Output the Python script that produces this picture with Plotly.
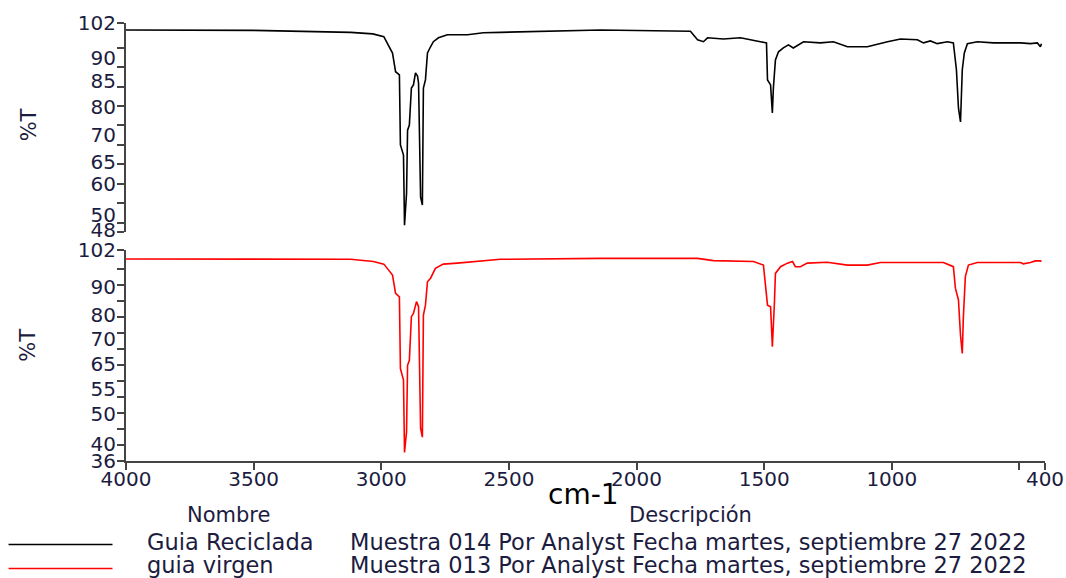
import plotly.graph_objects as go

# ---------------- data ----------------
wn_reciclada = [4000, 3500, 3120, 3033, 2990, 2976, 2956, 2944, 2929, 2925, 2913, 2909,
                2901, 2897, 2890, 2882, 2874, 2866, 2858, 2854, 2846, 2839, 2835, 2827,
                2819, 2807, 2796, 2776, 2741, 2662, 2600, 2533, 2337, 2141, 1789, 1761,
                1738, 1722, 1660, 1593, 1515, 1491, 1487, 1475, 1468, 1464, 1456, 1444,
                1425, 1405, 1386, 1346, 1280, 1229, 1174, 1096, 1017, 966, 900, 876, 849,
                822, 782, 759, 747, 739, 731, 724, 716, 704, 665, 602, 496, 457, 430, 418, 414]
t_reciclada = [99.5, 99.4, 98.9, 98.5, 97.8, 96.2, 93.6, 88.8, 88.0, 70.0, 67.4, 49.4,
               57.6, 73.8, 75.1, 84.6, 85.4, 88.5, 87.7, 85.9, 56.6, 54.6, 84.6, 86.7,
               93.6, 95.2, 96.5, 97.5, 98.3, 98.3, 98.8, 98.9, 99.2, 99.5, 99.2, 97.0,
               96.5, 97.5, 97.2, 97.5, 96.5, 96.2, 86.7, 85.4, 78.2, 84.6, 91.8, 93.9,
               94.9, 95.7, 94.9, 96.5, 96.2, 96.5, 95.2, 95.2, 96.5, 97.2, 97.0, 96.2, 96.7,
               96.0, 96.5, 96.2, 89.3, 79.5, 75.9, 89.3, 93.6, 96.0, 96.5, 96.2, 96.2, 96.0, 96.2, 95.2, 96.0]

wn_virgen = [4000, 3120, 3031, 2990, 2972, 2956, 2944, 2929, 2925, 2913, 2909, 2901,
             2897, 2890, 2882, 2874, 2862, 2854, 2846, 2839, 2835, 2827, 2819, 2807,
             2788, 2757, 2702, 2600, 2533, 2141, 1761, 1699, 1542, 1503, 1487, 1475,
             1468, 1460, 1456, 1436, 1409, 1389, 1378, 1358, 1331, 1253, 1174, 1096,
             1045, 798, 759, 751, 739, 731, 724, 720, 712, 700, 665, 496, 485, 457,
             438, 418, 414]
t_virgen = [98.2, 98.1, 97.4, 96.6, 94.8, 93.2, 87.5, 86.4, 64.0, 60.4, 37.8, 44.2,
            65.0, 66.6, 80.2, 81.2, 84.9, 83.3, 45.3, 42.6, 80.7, 83.8, 91.1, 92.2,
            95.3, 96.6, 96.9, 97.6, 98.1, 98.4, 98.4, 97.7, 97.4, 96.3, 83.8, 83.3,
            70.8, 84.4, 93.7, 95.8, 96.9, 97.4, 95.8, 95.8, 96.9, 97.2, 96.3, 96.3,
            97.1, 97.1, 95.8, 89.1, 85.4, 74.4, 68.7, 79.7, 92.7, 96.3, 97.1, 97.1, 96.7, 97.1,
            97.6, 97.6, 97.4]

x_tick_vals = [4000, 3500, 3000, 2500, 2000, 1500, 1000, 500, 400]
x_tick_text = ["4000", "3500", "3000", "2500", "2000", "1500", "1000", "", "400"]

top_label_vals = [101.3, 92.3, 86.3, 79.8, 72.6, 65.7, 60.0, 52.0, 48.1]
top_label_text = ["102", "90", "85", "80", "70", "65", "60", "50", "48"]
top_minor_vals = [101.3, 95, 90, 85, 80, 75, 70, 65, 60, 55, 50, 47.6]

bot_label_vals = [101.0, 89.6, 80.7, 73.1, 65.3, 57.5, 49.9, 40.5, 35.2]
bot_label_text = ["102", "90", "80", "70", "65", "55", "50", "40", "36"]
bot_minor_vals = [101.0, 95, 90, 85, 80, 75, 70, 65, 60, 55, 50, 45, 40, 35.15]

names = ["Guia Reciclada", "guia virgen"]
descriptions = ["Muestra 014 Por Analyst Fecha martes, septiembre 27 2022",
                "Muestra 013 Por Analyst Fecha martes, septiembre 27 2022"]
colors = ["#000000", "#ff0000"]

# ---------------- figure ----------------
FONT = "DejaVu Sans"
TXT = "#1c1c40"
AX = "#444444"

fig = go.Figure()
fig.add_trace(go.Scatter(x=wn_reciclada, y=t_reciclada, mode="lines",
                         line=dict(color=colors[0], width=1.6), xaxis="x", yaxis="y",
                         showlegend=False, hoverinfo="skip"))
fig.add_trace(go.Scatter(x=wn_virgen, y=t_virgen, mode="lines",
                         line=dict(color=colors[1], width=1.6), xaxis="x2", yaxis="y2",
                         showlegend=False, hoverinfo="skip"))

yaxis_common = dict(showgrid=False, zeroline=False, showline=True, linecolor=AX, linewidth=2,
                    ticks="outside", ticklen=4, tickcolor="rgba(0,0,0,0)", automargin=False,
                    tickfont=dict(family=FONT, size=20, color=TXT), tickmode="array")

fig.update_layout(
    width=1066, height=578,
    margin=dict(l=125.5, r=21.4, t=23.3, b=117.3, autoexpand=False),
    paper_bgcolor="white", plot_bgcolor="white",
    xaxis=dict(domain=[0, 1], range=[4000, 400], anchor="y", matches="x2", automargin=False,
               showline=False, showticklabels=False, ticks="", showgrid=False, zeroline=False),
    yaxis=dict(domain=[0.5222, 1], range=[47.6, 101.3], anchor="x",
               tickvals=top_label_vals, ticktext=top_label_text,
               minor=dict(tickmode="array", tickvals=top_minor_vals, ticks="outside",
                          ticklen=7, tickcolor=AX, tickwidth=2),
               **yaxis_common),
    xaxis2=dict(domain=[0, 1], range=[4000, 400], anchor="y2", automargin=False,
                showline=True, linecolor=AX, linewidth=2, showgrid=False, zeroline=False,
                ticks="outside", ticklen=7, tickwidth=2, tickcolor=AX,
                ticklabelstandoff=-8,
                tickmode="array", tickvals=x_tick_vals, ticktext=x_tick_text,
                tickfont=dict(family=FONT, size=20, color=TXT)),
    yaxis2=dict(domain=[0, 0.4817], range=[35.15, 101.0], anchor="x2",
                tickvals=bot_label_vals, ticktext=bot_label_text,
                minor=dict(tickmode="array", tickvals=bot_minor_vals, ticks="outside",
                           ticklen=7, tickcolor=AX, tickwidth=2),
                **yaxis_common),
)

ann = []
# axis titles
ann.append(dict(text="cm-1", x=0.4977, y=-0.0755, xref="paper", yref="paper",
                showarrow=False, font=dict(family=FONT, size=28, color="#000000"),
                xanchor="center", yanchor="middle"))
for yy in (0.7675, 0.2645):
    ann.append(dict(text="%T", x=-0.1061, y=yy, xref="paper", yref="paper", textangle=-90,
                    showarrow=False, font=dict(family=FONT, size=21, color=TXT),
                    xanchor="center", yanchor="middle"))
# legend header
ann.append(dict(text="Nombre", x=0.1115, y=-0.1241, xref="paper", yref="paper",
                showarrow=False, font=dict(family=FONT, size=21, color=TXT),
                xanchor="center", yanchor="middle"))
ann.append(dict(text="Descripción", x=0.6143, y=-0.1241, xref="paper", yref="paper",
                showarrow=False, font=dict(family=FONT, size=21, color=TXT),
                xanchor="center", yanchor="middle"))
shapes = []
row_text_y = (-0.1859, -0.2375)
row_line_y = (-0.1904, -0.2453)
for i in range(2):
    ann.append(dict(text=names[i], x=0.0212, y=row_text_y[i], xref="paper", yref="paper",
                    showarrow=False, font=dict(family=FONT, size=22.5, color=TXT),
                    xanchor="left", yanchor="middle"))
    ann.append(dict(text=descriptions[i], x=0.2421, y=row_text_y[i], xref="paper", yref="paper",
                    showarrow=False, font=dict(family=FONT, size=22.5, color=TXT),
                    xanchor="left", yanchor="middle"))
    shapes.append(dict(type="line", xref="paper", yref="paper", x0=-0.1278, x1=-0.0147,
                       y0=row_line_y[i], y1=row_line_y[i], line=dict(color=colors[i], width=1.5)))

fig.update_layout(annotations=ann, shapes=shapes)
fig.write_html("out.html", config={"displayModeBar": False},
               post_script="document.body.style.margin='0';document.body.style.overflow='hidden';")
